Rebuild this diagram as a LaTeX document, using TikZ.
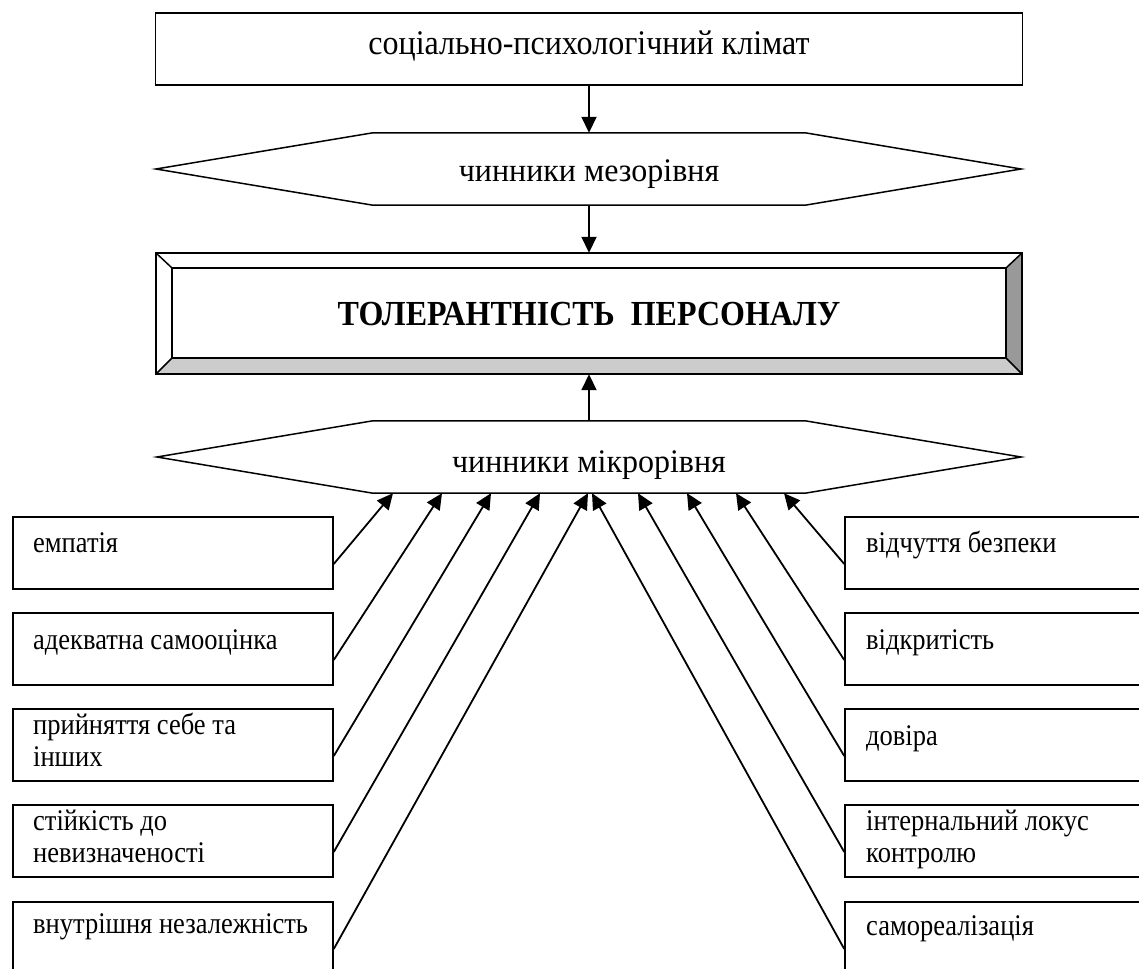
\documentclass[tikz,border=0pt]{standalone}
\usepackage{fontspec}
\setmainfont{Liberation Serif}
\usetikzlibrary{arrows.meta}
\definecolor{bevellight}{HTML}{CCCCCC}
\definecolor{beveldark}{HTML}{999999}
\newcommand{\factortxt}[1]{\scalebox{1}[1.13]{\begin{tabular}[t]{@{}l@{}}#1\end{tabular}}}
\newcommand{\stretchtxt}[3]{\raisebox{#1}[0pt][0pt]{\scalebox{1}[#2]{#3}}}
\begin{document}
\begin{tikzpicture}[x=1pt,y=-1pt,
  myline/.style={draw=black, line width=1.5pt},
  factorbox/.style={myline, rectangle, minimum width=320pt, minimum height=72pt, inner sep=0pt},
  factortext/.style={anchor=north west, align=left, inner sep=0pt, font=\fontsize{26.5}{28.3}\selectfont},
  levelnode/.style={rectangle, minimum width=432pt, minimum height=72pt, inner sep=0pt, font=\fontsize{32}{38}\selectfont},
  myarrow/.style={line width=1.8pt, -{Triangle[length=16pt,width=15pt]}},
]
\useasboundingbox (0,0) rectangle (1139,968);
\clip (0,0) rectangle (1139,968);
\fill[white] (0,0) rectangle (1139,968);

% top box
\node[myline, rectangle, minimum width=867pt, minimum height=72pt, inner sep=0pt,
      font=\fontsize{32}{38}\selectfont] (climate) at (589,49)
      {\stretchtxt{-6pt}{1.08}{соціально-психологічний клімат}};

% meso level
\node[levelnode] (meso) at (589,169) {\stretchtxt{-13pt}{1.03}{чинники мезорівня}};
\draw[myline] (156,169) -- (meso.north west) -- (meso.north east) -- (1021,169)
  -- (meso.south east) -- (meso.south west) -- cycle;

% bevel box
\node[minimum width=866pt, minimum height=121pt, inner sep=0pt] (frame) at (589,313.5) {};
\node[minimum width=834pt, minimum height=90pt, inner sep=0pt,
      font=\bfseries\fontsize{32}{38}\selectfont] (tol) at (589,313)
      {\stretchtxt{-12pt}{1.1}{ТОЛЕРАНТНІСТЬ\ \ ПЕРСОНАЛУ}};
\fill[bevellight] (frame.south west) -- (frame.south east) -- (tol.south east) -- (tol.south west) -- cycle;
\fill[beveldark] (frame.south east) -- (frame.north east) -- (tol.north east) -- (tol.south east) -- cycle;
\draw[myline] (frame.south west) rectangle (frame.north east);
\draw[myline] (tol.south west) rectangle (tol.north east);
\foreach \c in {north west, north east, south west, south east}
  \draw[myline] (frame.\c) -- (tol.\c);

% micro level
\node[levelnode] (micro) at (589,457) {\stretchtxt{-15pt}{1.03}{чинники мікрорівня}};
\draw[myline] (157,457) -- (micro.north west) -- (micro.north east) -- (1021,457)
  -- (micro.south east) -- (micro.south west) -- cycle;

% vertical arrows
\draw[myarrow] (climate.south) -- (meso.north);
\draw[myarrow] (meso.south) -- (frame.north);
\draw[myarrow] (micro.north) -- (frame.south);

% left factors
\node[factorbox] (l1) at (173,553) {};
\node[factorbox] (l2) at (173,649) {};
\node[factorbox] (l3) at (173,745) {};
\node[factorbox] (l4) at (173,841) {};
\node[factorbox] (l5) at (173,938) {};
\node[factortext] (l1t) at (33,530) {\factortxt{емпатія}};
\node[factortext] (l2t) at (33,627) {\factortxt{адекватна самооцінка}};
\node[factortext] (l3t) at (33,711.6) {\factortxt{прийняття себе та\\інших}};
\node[factortext] (l4t) at (33,807.6) {\factortxt{стійкість до\\невизначеності}};
\node[factortext] (l5t) at (33,911) {\factortxt{внутрішня незалежність}};

% right factors
\node[factorbox] (r1) at (1005,553) {};
\node[factorbox] (r2) at (1005,649) {};
\node[factorbox] (r3) at (1005,745) {};
\node[factorbox] (r4) at (1005,841) {};
\node[factorbox] (r5) at (1005,938) {};
\node[factortext] (r1t) at (866,530) {\factortxt{відчуття безпеки}};
\node[factortext] (r2t) at (866,627) {\factortxt{відкритість}};
\node[factortext] (r3t) at (866,722.6) {\factortxt{довіра}};
\node[factortext] (r4t) at (866,807.6) {\factortxt{інтернальний локус\\контролю}};
\node[factortext] (r5t) at (866,913) {\factortxt{самореалізація}};

% diagonal arrows
\draw[myarrow] ([yshift=-11pt]l1.east) -- ([xshift=-196pt]micro.south);
\draw[myarrow] ([yshift=-11pt]l2.east) -- ([xshift=-147pt]micro.south);
\draw[myarrow] ([yshift=-11pt]l3.east) -- ([xshift=-98pt]micro.south);
\draw[myarrow] ([yshift=-11pt]l4.east) -- ([xshift=-49pt]micro.south);
\draw[myarrow] ([yshift=-11pt]l5.east) -- ([xshift=-1pt]micro.south);
\draw[myarrow] ([yshift=-11pt]r1.west) -- ([xshift=195pt]micro.south);
\draw[myarrow] ([yshift=-11pt]r2.west) -- ([xshift=147pt]micro.south);
\draw[myarrow] ([yshift=-11pt]r3.west) -- ([xshift=98pt]micro.south);
\draw[myarrow] ([yshift=-11pt]r4.west) -- ([xshift=49pt]micro.south);
\draw[myarrow] ([yshift=-11pt]r5.west) -- ([xshift=3pt]micro.south);
\end{tikzpicture}
\end{document}
